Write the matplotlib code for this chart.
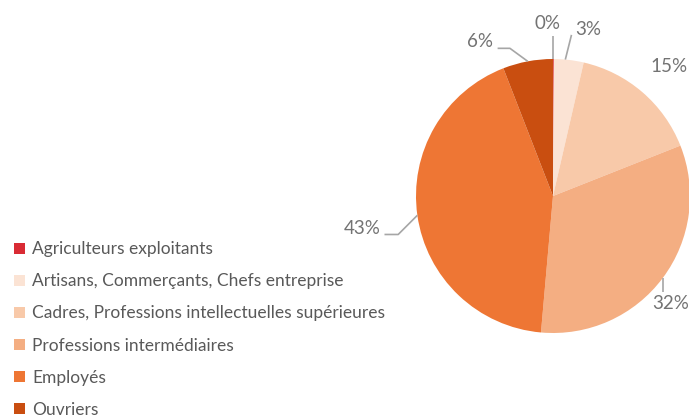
import numpy as np
import matplotlib
matplotlib.use('Agg')
import matplotlib.pyplot as plt

plt.rcParams['font.family'] = ['Lato', 'DejaVu Sans']

# Data
categories = ['Agriculteurs exploitants',
              'Artisans, Commerçants, Chefs entreprise',
              'Cadres, Professions intellectuelles supérieures',
              'Professions intermédiaires',
              'Employés',
              'Ouvriers']
shares = [0.1, 3.5, 15.4, 32.4, 42.7, 5.9]
pct_labels = ['0%', '3%', '15%', '32%', '43%', '6%']
colors = ['#d92b34', '#fbe3d4', '#f8c9a9', '#f4ae82', '#ee7634', '#c94e10']

label_gray = '#737373'
line_gray = '#a6a6a6'
lab_fs = 13.5

fig = plt.figure(figsize=(6.89, 4.16), dpi=100)
# pie axes: centre at (553, 196) px, radius 137 px
R = 137.0
cx, cy = 553.0, 196.0
half = 2 * R
ax = fig.add_axes([(cx - half) / 689, (416 - cy - half) / 416, 2 * half / 689, 2 * half / 416])

wedges, _ = ax.pie(shares, colors=colors, startangle=90, counterclock=False,
                   radius=1.0, wedgeprops=dict(linewidth=0))
ax.set_xlim(-2, 2)
ax.set_ylim(-2, 2)
ax.axis('off')


def mid_angle(w):
    return np.deg2rad((w.theta1 + w.theta2) / 2)


def edge(a, r=1.0):
    return r * np.cos(a), r * np.sin(a)


def leader(xs, ys):
    ax.plot(xs, ys, color=line_gray, lw=1.2, clip_on=False, solid_capstyle='butt')


# 0%: short vertical leader, label above-left
a0 = mid_angle(wedges[0])
p0 = edge(a0)
leader([p0[0], p0[0]], [p0[1], p0[1] + 0.17])
ax.text(p0[0] - 0.04, p0[1] + 0.26, pct_labels[0], ha='center', va='center', fontsize=lab_fs, color=label_gray)

# 3%
a1 = mid_angle(wedges[1]) + np.deg2rad(1.5)
p1 = edge(a1)
leader([p1[0], p1[0] + 0.045], [p1[1], p1[1] + 0.18])
ax.text(p1[0] + 0.17, p1[1] + 0.22, pct_labels[1], ha='center', va='center', fontsize=lab_fs, color=label_gray)

# 15%: no leader
a2 = mid_angle(wedges[2]) - np.deg2rad(1)
t2 = edge(a2, 1.27)
ax.text(t2[0], t2[1], pct_labels[2], ha='center', va='center', fontsize=lab_fs, color=label_gray)

# 32%: short vertical leader, label below
p3 = edge(mid_angle(wedges[3]))
leader([p3[0], p3[0]], [p3[1], p3[1] - 0.10])
ax.text(p3[0] + 0.06, p3[1] - 0.19, pct_labels[3], ha='center', va='center', fontsize=lab_fs, color=label_gray)

# 43%: elbow leader to the left
p4 = edge(mid_angle(wedges[4]))
e1 = (p4[0] - 0.14, p4[1] - 0.14)
leader([p4[0], e1[0], e1[0] - 0.10], [p4[1], e1[1], e1[1]])
ax.text(e1[0] - 0.13, e1[1] + 0.045, pct_labels[4], ha='right', va='center', fontsize=lab_fs, color=label_gray)

# 6%: elbow leader up-left
p5 = edge(mid_angle(wedges[5]))
s1 = (p5[0] - 0.13, p5[1] + 0.095)
leader([p5[0], s1[0], s1[0] - 0.09], [p5[1], s1[1], s1[1]])
ax.text(s1[0] - 0.125, s1[1] + 0.05, pct_labels[5], ha='right', va='center', fontsize=lab_fs, color=label_gray)

leg = fig.legend(wedges, categories, loc='upper left', bbox_to_anchor=(0.003, 1 - 229 / 416),
                 frameon=False, fontsize=12.5, labelcolor='#595959', handlelength=0.6,
                 handleheight=0.6, handletextpad=0.45, labelspacing=0.93, borderaxespad=0.3)

fig.savefig('out.png', dpi=100)
